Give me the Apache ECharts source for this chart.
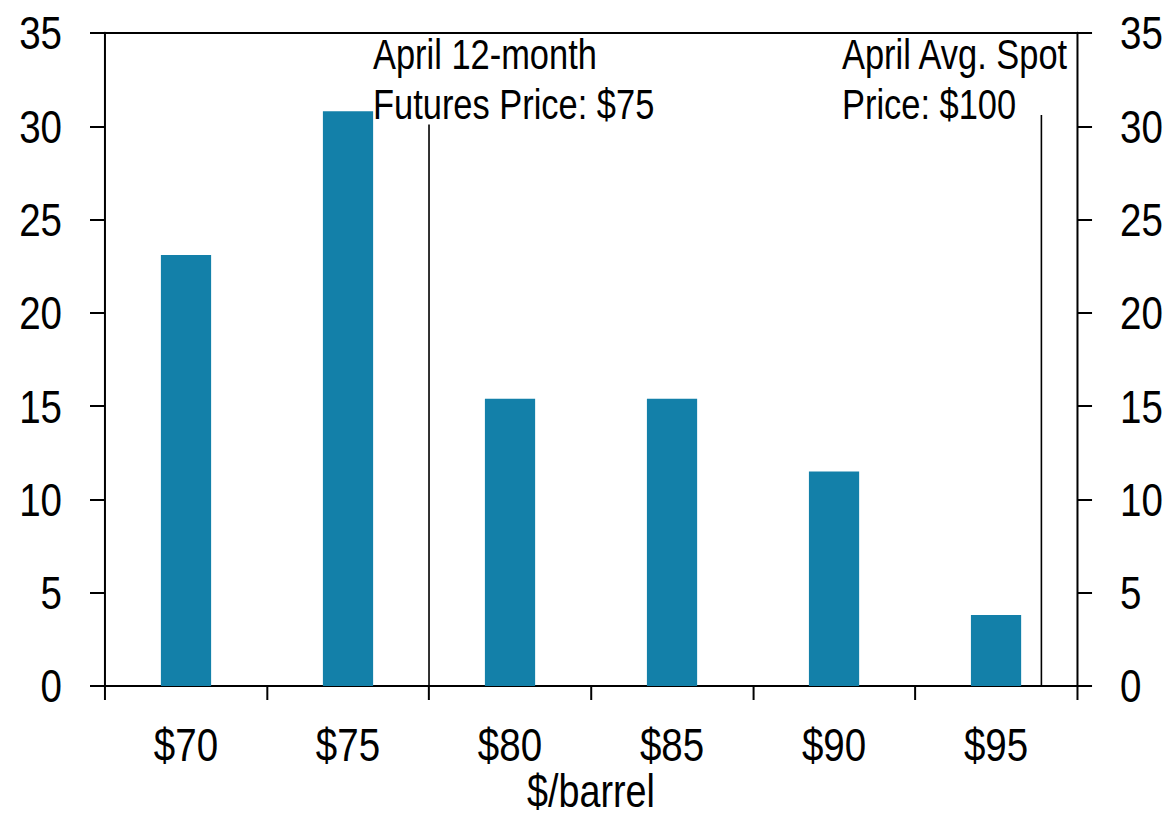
<!DOCTYPE html>
<html>
<head>
<meta charset="utf-8">
<script src="https://cdn.jsdelivr.net/npm/echarts@6/dist/echarts.min.js"></script>
<style>
html, body { margin: 0; padding: 0; background: #fff; overflow: hidden; }
/* no narrow font installed: draw wider and squeeze horizontally, like Arial Narrow */
#main { width: 1422px; height: 821px; transform: scaleX(0.82); transform-origin: 0 0; }
</style>
</head>
<body>
<div id="main"></div>
<script>
// price buckets and share of responses (%)
var categories = ['$70', '$75', '$80', '$85', '$90', '$95']
var shares = [23.1, 30.8, 15.4, 15.4, 11.5, 3.8]
var yTicks = [0, 5, 10, 15, 20, 25, 30, 35]
// vertical reference lines: [$/barrel position, height]
var futuresLine = [77.5, 30.1]
var spotLine = [96.4, 30.6]
var futuresText = ['April 12-month', 'Futures Price: $75']
var spotText = ['April Avg. Spot', 'Price: $100']

var sx = 0.82 // horizontal squeeze, see css
var font = '"Liberation Sans", Arial, sans-serif'
var myChart = echarts.init(document.getElementById('main'), null, { renderer: 'svg' })

var yAxisBase = {
  type: 'value',
  min: yTicks[0],
  max: yTicks[yTicks.length - 1],
  interval: 5,
  splitLine: { show: false },
  axisLine: { show: true, lineStyle: { color: '#000', width: 2 / sx } },
  axisTick: { show: true, inside: false, length: 15 / sx, lineStyle: { color: '#000', width: 2 } },
  axisLabel: { color: '#000', fontSize: 47, fontFamily: font, margin: 43 / sx }
}

myChart.setOption({
  animation: false,
  grid: { left: 105 / sx, right: 89 / sx, top: 33, bottom: 135, containLabel: false, outerBoundsMode: 'none' },
  xAxis: [
    {
      type: 'category',
      data: categories,
      position: 'bottom',
      name: '$/barrel',
      nameLocation: 'middle',
      nameGap: 81,
      nameMoveOverlap: false,
      nameTextStyle: { color: '#000', fontSize: 46, fontFamily: font, lineHeight: 48 },
      axisLine: { lineStyle: { color: '#000', width: 2 } },
      axisTick: { show: true, alignWithLabel: false, length: 14, lineStyle: { color: '#000', width: 2 / sx } },
      axisLabel: { color: '#000', fontSize: 47, fontFamily: font, margin: 35 }
    },
    {
      // hidden $/barrel scale for the reference lines; its line is the top border
      type: 'value',
      position: 'top',
      min: 67.5,
      max: 97.5,
      axisLine: { show: true, onZero: false, lineStyle: { color: '#000', width: 2 } },
      axisTick: { show: false },
      axisLabel: { show: false },
      splitLine: { show: false }
    }
  ],
  yAxis: [
    Object.assign({}, yAxisBase, { position: 'left' }),
    Object.assign({}, yAxisBase, { position: 'right' })
  ],
  series: [
    {
      type: 'bar',
      data: shares,
      barWidth: '31%',
      itemStyle: { color: '#1380a9' }
    },
    {
      type: 'line',
      xAxisIndex: 1,
      yAxisIndex: 0,
      symbol: 'none',
      lineStyle: { color: '#000', width: 1.6 / sx },
      data: [[futuresLine[0], 0], [futuresLine[0], futuresLine[1]]]
    },
    {
      type: 'line',
      xAxisIndex: 1,
      yAxisIndex: 0,
      symbol: 'none',
      lineStyle: { color: '#000', width: 1.6 / sx },
      data: [[spotLine[0], 0], [spotLine[0], spotLine[1]]]
    }
  ],
  graphic: [
    {
      type: 'text',
      left: 373 / sx,
      top: 29,
      style: { text: futuresText.join('\n'), fill: '#000', fontSize: 42, fontFamily: font, lineHeight: 50 }
    },
    {
      type: 'text',
      left: 842 / sx,
      top: 29,
      style: { text: spotText.join('\n'), fill: '#000', fontSize: 42, fontFamily: font, lineHeight: 50 }
    }
  ]
})
</script>
</body>
</html>
